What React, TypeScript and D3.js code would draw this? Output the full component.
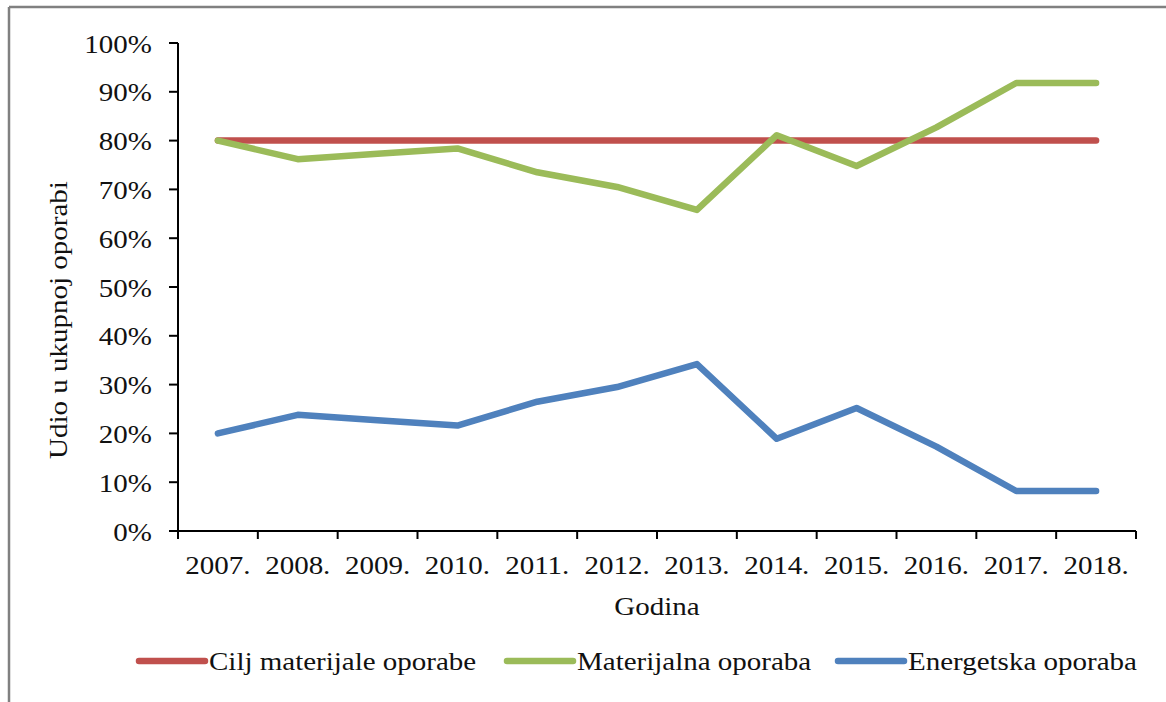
import * as d3 from 'd3';

const years = ['2007.', '2008.', '2009.', '2010.', '2011.', '2012.', '2013.', '2014.', '2015.', '2016.', '2017.', '2018.'];
const ciljMaterijalne = [80, 80, 80, 80, 80, 80, 80, 80, 80, 80, 80, 80];
const materijalna = [80, 76.2, 77.3, 78.4, 73.5, 70.5, 65.8, 81.1, 74.8, 82.7, 91.8, 91.8];
const energetska = [20, 23.8, 22.7, 21.6, 26.5, 29.5, 34.2, 18.9, 25.2, 17.3, 8.2, 8.2];
const yTicks = [0, 10, 20, 30, 40, 50, 60, 70, 80, 90, 100];

const series = [
  { name: 'Cilj materijale oporabe', values: ciljMaterijalne, color: '#C0504D' },
  { name: 'Materijalna oporaba', values: materijalna, color: '#9BBB59' },
  { name: 'Energetska oporaba', values: energetska, color: '#4F81BD' },
];

const W = 1166;
const H = 702;
const plot = { left: 178, right: 1136, top: 43, bottom: 531 };
const FONT = 'Liberation Serif, Times New Roman, serif';
const FS = 25;
const SX = 1.16; // text in the source is a bit wider than plain Times

function Label({ x, y, anchor = 'middle', rotate = 0, children }: any) {
  return (
    <g transform={`translate(${x},${y}) rotate(${rotate}) scale(${SX},1)`}>
      <text textAnchor={anchor} style={{ fontFamily: FONT, fontSize: FS }} fill="#111">
        {children}
      </text>
    </g>
  );
}

export default function App() {
  const x = d3.scaleBand<string>().domain(years).range([plot.left, plot.right]);
  const y = d3.scaleLinear().domain([0, 100]).range([plot.bottom, plot.top]);
  const line = d3
    .line<number>()
    .x((_, i) => (x(years[i]) as number) + x.bandwidth() / 2)
    .y((d) => y(d));

  const boundaries = years.map((c) => x(c) as number).concat([plot.right]);
  const legendX = [139, 507, 838];
  const legendY = 661;

  return (
    <svg width={W} height={H} style={{ position: 'absolute', left: 0, top: 0, background: '#fff' }}>
      <rect x={0} y={0} width={W} height={H} fill="#fff" />
      {/* outer frame, only top and left visible */}
      <line x1={9} y1={7} x2={W} y2={7} stroke="#808080" strokeWidth={2.5} />
      <line x1={9} y1={7} x2={9} y2={H} stroke="#808080" strokeWidth={2.5} />

      {/* y axis */}
      <line x1={plot.left} y1={plot.top} x2={plot.left} y2={plot.bottom} stroke="#000" strokeWidth={2} />
      {yTicks.map((t) => (
        <g key={t}>
          <line x1={plot.left - 9} x2={plot.left} y1={y(t)} y2={y(t)} stroke="#000" strokeWidth={2} />
          <Label x={152} y={y(t) + 9.5} anchor="end">{`${t}%`}</Label>
        </g>
      ))}

      {/* x axis */}
      <line x1={plot.left} y1={plot.bottom} x2={plot.right} y2={plot.bottom} stroke="#000" strokeWidth={2} />
      {boundaries.map((b, i) => (
        <line key={i} x1={b} x2={b} y1={plot.bottom} y2={plot.bottom + 8} stroke="#000" strokeWidth={2} />
      ))}
      {years.map((c) => (
        <Label key={c} x={(x(c) as number) + x.bandwidth() / 2} y={574}>{c}</Label>
      ))}

      <Label x={(plot.left + plot.right) / 2} y={615}>Godina</Label>
      <Label x={67} y={320} rotate={-90}>Udio u ukupnoj oporabi</Label>

      {series.map((s) => (
        <path
          key={s.name}
          d={line(s.values) || ''}
          fill="none"
          stroke={s.color}
          strokeWidth={6.5}
          strokeLinecap="round"
          strokeLinejoin="round"
        />
      ))}

      {series.map((s, i) => (
        <g key={s.name}>
          <line
            x1={legendX[i]}
            x2={legendX[i] + 66}
            y1={legendY}
            y2={legendY}
            stroke={s.color}
            strokeWidth={6.5}
            strokeLinecap="round"
          />
          <Label x={legendX[i] + 70} y={legendY + 9} anchor="start">{s.name}</Label>
        </g>
      ))}
    </svg>
  );
}
